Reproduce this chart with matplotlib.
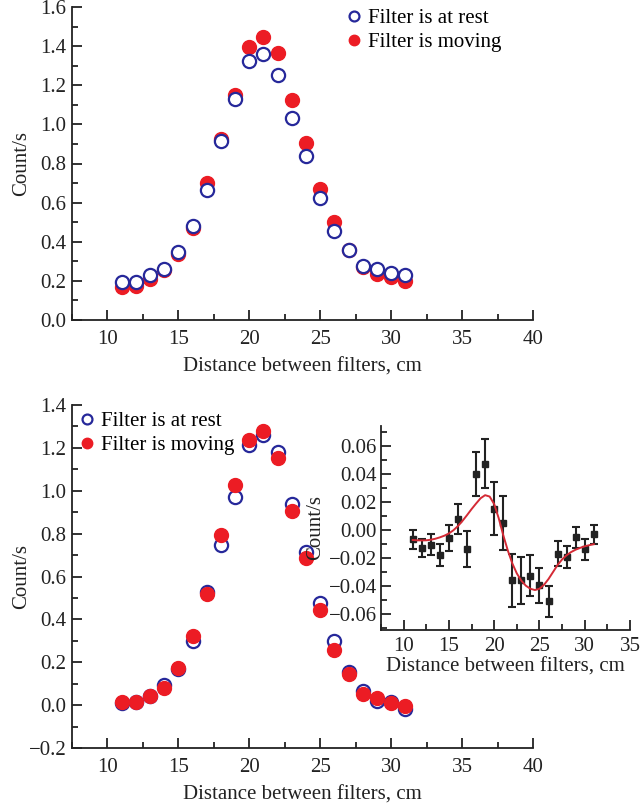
import numpy as np
import matplotlib
matplotlib.use("Agg")
import matplotlib.pyplot as plt
from matplotlib.ticker import MultipleLocator, FuncFormatter

plt.rcParams['font.family'] = ['Liberation Serif', 'DejaVu Serif']
plt.rcParams['axes.unicode_minus'] = True

# ---------------- data ----------------
x_top = [11, 12, 13, 14, 15, 16, 17, 18, 19, 20, 21, 22, 23, 24, 25, 26, 27, 28, 29, 30, 31]
top_rest = [0.194, 0.194, 0.228, 0.262, 0.349, 0.480, 0.665, 0.917, 1.128, 1.323, 1.360, 1.254,
            1.033, 0.838, 0.622, 0.456, 0.358, 0.276, 0.259, 0.242, 0.230]
top_moving = [0.170, 0.174, 0.211, 0.256, 0.337, 0.470, 0.699, 0.924, 1.149, 1.394, 1.445, 1.367,
              1.125, 0.903, 0.672, 0.502, 0.360, 0.270, 0.235, 0.221, 0.201]

x_bot = [11, 12, 13, 14, 15, 16, 17, 18, 19, 20, 21, 22, 23, 24, 25, 26, 27, 28, 29, 30, 31]
bot_rest = [0.010, 0.013, 0.044, 0.094, 0.169, 0.298, 0.526, 0.745, 0.970, 1.214, 1.258, 1.183,
            0.936, 0.714, 0.476, 0.298, 0.154, 0.066, 0.019, 0.016, -0.018]
bot_moving = [0.016, 0.013, 0.044, 0.079, 0.172, 0.322, 0.520, 0.795, 1.026, 1.239, 1.277, 1.155,
              0.904, 0.686, 0.444, 0.257, 0.144, 0.053, 0.031, 0.010, -0.006]

x_diff = [11, 12, 13, 14, 15, 16, 17, 18, 19, 20, 21, 22, 23, 24, 25, 26, 27, 28, 29, 30, 31]
diff = [-0.0067, -0.0129, -0.0105, -0.0179, -0.0057, 0.0079, -0.0136, 0.0402, 0.0474, 0.0152,
        0.0050, -0.0360, -0.0360, -0.0326, -0.0395, -0.0509, -0.0169, -0.0193, -0.0052, -0.0138, -0.0029]
diff_err = [0.0066, 0.0066, 0.0074, 0.0079, 0.0095, 0.0110, 0.0130, 0.0156, 0.0175, 0.0190,
            0.0195, 0.0190, 0.0170, 0.0148, 0.0127, 0.0110, 0.0090, 0.0080, 0.0076, 0.0076, 0.0069]

x_fit = [11.0, 11.5, 12.0, 12.5, 13.0, 13.5, 14.0, 14.5, 15.0, 15.5, 16.0, 16.5, 17.0, 17.5, 18.0,
         18.5, 19.0, 19.5, 20.0, 20.5, 21.0, 21.5, 22.0, 22.5, 23.0, 23.5, 24.0, 24.5, 25.0, 25.5,
         26.0, 26.5, 27.0, 27.5, 28.0, 28.5, 29.0, 29.5, 30.0, 30.5, 31.0]
y_fit = [-0.0071, -0.0073, -0.0074, -0.0073, -0.0069, -0.0062, -0.0052, -0.0040, -0.0024, -0.0001,
         0.0029, 0.0066, 0.0107, 0.0150, 0.0190, 0.0228, 0.0250, 0.0240, 0.0186, 0.0085, -0.0036,
         -0.0145, -0.0238, -0.0310, -0.0362, -0.0398, -0.0420, -0.0429, -0.0420, -0.0392, -0.0350,
         -0.0300, -0.0250, -0.0210, -0.0180, -0.0157, -0.0140, -0.0127, -0.0116, -0.0108, -0.0101]

xlabel = "Distance between filters, cm"
ylabel = "Count/s"
legend_labels = ["Filter is at rest", "Filter is moving"]

BLUE = '#26289a'
RED = '#ec1c24'
TXT = '#222222'
FS = 15

fig = plt.figure(figsize=(6.41, 8.10), dpi=100)

def style(ax, xmaj, xmin_, ymaj, ymin_, fs=FS):
    for s in ['top', 'right']:
        ax.spines[s].set_visible(False)
    for s in ['left', 'bottom']:
        ax.spines[s].set_linewidth(1.3)
        ax.spines[s].set_color(TXT)
    ax.xaxis.set_major_locator(MultipleLocator(xmaj))
    ax.xaxis.set_minor_locator(MultipleLocator(xmin_))
    ax.yaxis.set_major_locator(MultipleLocator(ymaj))
    ax.yaxis.set_minor_locator(MultipleLocator(ymin_))
    ax.tick_params(which='both', direction='in', top=False, right=False, color=TXT,
                   width=1.3, labelsize=fs, labelcolor=TXT)
    ax.tick_params(which='major', length=7)
    ax.tick_params(which='minor', length=4)
    ax.tick_params(axis='x', which='major', pad=7)
    ax.tick_params(axis='y', which='major', pad=4)

# ---------------- top panel ----------------
ax1 = fig.add_axes([72/641, 1 - 320/810, 461/641, 313/810])
ax1.plot(x_top, top_moving, 'o', color=RED, ms=10, mec=RED, label=legend_labels[1], zorder=2)
ax1.plot(x_top, top_rest, 'o', mfc='white', mec=BLUE, mew=1.6, ms=9.5, label=legend_labels[0], zorder=3)
ax1.set_xlim(7.5, 40)
ax1.set_ylim(0, 1.6)
style(ax1, 5, 2.5, 0.2, 0.1)
ax1.yaxis.set_major_formatter(FuncFormatter(lambda v, p: f"{v:.1f}"))
ax1.set_xlabel(xlabel, fontsize=FS, color=TXT, labelpad=6)
ax1.set_ylabel(ylabel, fontsize=FS, color=TXT)
ax1.yaxis.set_label_coords(-0.088, 0.5)
h, l = ax1.get_legend_handles_labels()
ax1.legend([h[1], h[0]], [l[1], l[0]], loc='upper left', bbox_to_anchor=(0.543, 1.055),
           frameon=False, fontsize=FS, handletextpad=0.1, handlelength=1.2,
           labelspacing=0.2, markerscale=0.75)

# ---------------- bottom panel ----------------
ax2 = fig.add_axes([72/641, 1 - 748/810, 461/641, 343/810])
ax2.plot(x_bot, bot_rest, 'o', mfc='white', mec=BLUE, mew=1.6, ms=9.5, label=legend_labels[0], zorder=2)
ax2.plot(x_bot, bot_moving, 'o', color=RED, ms=10, mec=RED, label=legend_labels[1], zorder=3)
ax2.set_xlim(7.5, 40)
ax2.set_ylim(-0.2, 1.4)
style(ax2, 5, 2.5, 0.2, 0.1)
ax2.yaxis.set_major_formatter(FuncFormatter(lambda v, p: f"{v:.1f}".replace('-', '\u2212')))
ax2.set_xlabel(xlabel, fontsize=FS, color=TXT, labelpad=6)
ax2.set_ylabel(ylabel, fontsize=FS, color=TXT)
ax2.yaxis.set_label_coords(-0.088, 0.5)
ax2.legend(loc='upper left', bbox_to_anchor=(-0.036, 1.035), frameon=False, fontsize=FS,
           handletextpad=0.1, handlelength=1.2, labelspacing=0.2, markerscale=0.75)

# ---------------- inset ----------------
ax3 = fig.add_axes([381/641, 1 - 630/810, 249/641, 204/810])
ax3.errorbar(x_diff, diff, yerr=diff_err, fmt='s', color=TXT, ms=4.5, capsize=3,
             elinewidth=1.5, capthick=1.5, zorder=2)
ax3.plot(x_fit, y_fit, '-', color='#d42a35', lw=1.4, zorder=3)
ax3.set_xlim(7.5, 35)
ax3.set_ylim(-0.0715, 0.0745)
style(ax3, 5, 2.5, 0.02, 0.01)
ax3.tick_params(axis='x', which='major', pad=5)
ax3.tick_params(axis='y', which='major', pad=3)
ax3.yaxis.set_major_formatter(FuncFormatter(lambda v, p: f"{v:.2f}".replace('-', '\u2212') if abs(v) > 1e-9 else "0.00"))
ax3.set_xlabel(xlabel, fontsize=FS, color=TXT, labelpad=1)
ax3.set_ylabel(ylabel, fontsize=FS, color=TXT)
ax3.yaxis.set_label_coords(-0.225, 0.5)

fig.savefig("out.png", dpi=100)
